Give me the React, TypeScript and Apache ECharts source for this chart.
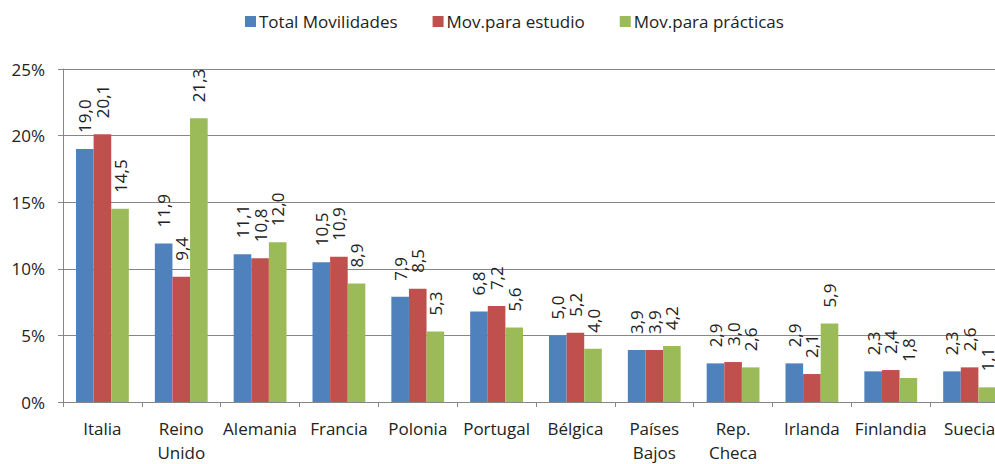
import React, { useEffect, useRef } from "react";
import * as echarts from "echarts";

const categories = [
  "Italia",
  "Reino\nUnido",
  "Alemania",
  "Francia",
  "Polonia",
  "Portugal",
  "Bélgica",
  "Países\nBajos",
  "Rep.\nCheca",
  "Irlanda",
  "Finlandia",
  "Suecia",
];
const seriesNames = ["Total Movilidades", "Mov.para estudio", "Mov.para prácticas"];
const totalMovilidades = [19.0, 11.9, 11.1, 10.5, 7.9, 6.8, 5.0, 3.9, 2.9, 2.9, 2.3, 2.3];
const movEstudio = [20.1, 9.4, 10.8, 10.9, 8.5, 7.2, 5.2, 3.9, 3.0, 2.1, 2.4, 2.6];
const movPracticas = [14.5, 21.3, 12.0, 8.9, 5.3, 5.6, 4.0, 4.2, 2.6, 5.9, 1.8, 1.1];
const colors = ["#4F81BD", "#C0504D", "#9BBB59"];

const FONT = "'Open Sans', 'Liberation Sans', Arial, sans-serif";

export default function App() {
  const ref = useRef<HTMLDivElement>(null);
  useEffect(() => {
    if (!ref.current) return;
    const chart = echarts.init(ref.current, undefined, { renderer: "svg" });
    const values = [totalMovilidades, movEstudio, movPracticas];
    chart.setOption({
      animation: false,
      textStyle: { fontFamily: FONT },
      legend: {
        left: 240,
        top: 8,
        itemWidth: 11,
        itemHeight: 11,
        itemGap: 35,
        icon: "rect",
        textStyle: { fontSize: 17, color: "#222", fontFamily: FONT, padding: [0, 0, 0, -2] },
        data: seriesNames,
      },
      grid: { left: 63, right: 11, top: 69, bottom: 56, containLabel: false },
      xAxis: {
        type: "category",
        data: categories,
        axisLine: { lineStyle: { color: "#868686", width: 1 } },
        axisTick: { show: true, length: 5, alignWithLabel: false, lineStyle: { color: "#868686" } },
        axisLabel: {
          fontSize: 17,
          color: "#222",
          fontFamily: FONT,
          lineHeight: 24,
          margin: 14,
          interval: 0,
        },
      },
      yAxis: {
        type: "value",
        min: 0,
        max: 25,
        interval: 5,
        axisLine: { show: true, lineStyle: { color: "#868686", width: 1 } },
        axisTick: { show: true, length: 5, lineStyle: { color: "#868686" } },
        splitLine: { lineStyle: { color: "#868686", width: 1 } },
        axisLabel: {
          fontSize: 17,
          color: "#222",
          fontFamily: FONT,
          margin: 18,
          formatter: (v: number) => `${v}%`,
        },
      },
      series: seriesNames.map((name, i) => ({
        name,
        type: "bar",
        data: values[i],
        barGap: "0%",
        barCategoryGap: "33%",
        itemStyle: { color: colors[i] },
        label: {
          show: true,
          position: "top",
          rotate: 90,
          align: "left",
          verticalAlign: "middle",
          distance: 16,
          fontSize: 17,
          color: "#222",
          fontFamily: FONT,
          formatter: (p: any) => Number(p.value).toFixed(1).replace(".", ","),
        },
      })),
    });
    return () => chart.dispose();
  }, []);
  return (
    <div
      style={{
        position: "fixed",
        left: 0,
        top: 0,
        width: 995,
        height: 464,
        overflow: "hidden",
        background: "#fff",
      }}
    >
      <div ref={ref} style={{ width: 1020, height: 464 }} />
    </div>
  );
}
